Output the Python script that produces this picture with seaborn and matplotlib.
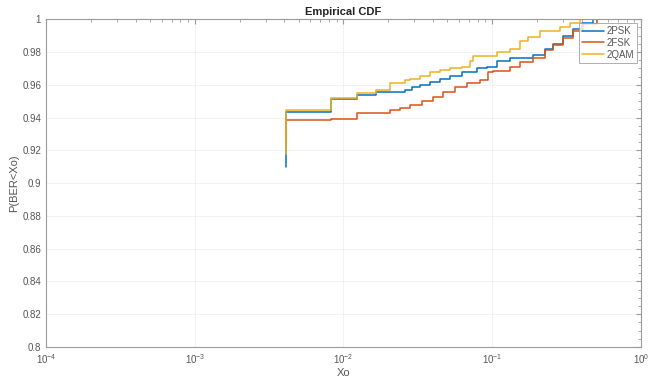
import numpy as np
import pandas as pd
import matplotlib
matplotlib.use("Agg")
import matplotlib.pyplot as plt
import matplotlib.ticker as mticker
import seaborn as sns

# Step vertices of each empirical CDF (x = BER threshold, F = P(BER < x))
psk_x = [0.00409, 0.00409, 0.0082, 0.01238, 0.01646, 0.02054, 0.02591, 0.02873, 0.03268,
         0.03816, 0.04454, 0.052, 0.06231, 0.07863, 0.09177, 0.1071, 0.1316, 0.1879,
         0.2263, 0.2561, 0.2989, 0.3491, 0.3993, 0.4759, 0.514]
psk_f = [0.910, 0.9431, 0.9513, 0.9538, 0.9553, 0.9558, 0.957, 0.9585, 0.960,
         0.9615, 0.9637, 0.9655, 0.9676, 0.970, 0.971, 0.9742, 0.9766, 0.978,
         0.9815, 0.985, 0.9895, 0.9937, 0.9975, 1.0, 1.0]

fsk_x = [0.00409, 0.00409, 0.0082, 0.01238, 0.02054, 0.0239, 0.028, 0.03355, 0.04015,
         0.04687, 0.05618, 0.06735, 0.08273, 0.09406, 0.1016, 0.1316, 0.1537, 0.1879,
         0.2263, 0.2561, 0.2989, 0.3491, 0.4075, 0.5038, 0.514]
fsk_f = [0.925, 0.9385, 0.9393, 0.9429, 0.9447, 0.9455, 0.9477, 0.950, 0.9527,
         0.9553, 0.9586, 0.9608, 0.963, 0.9676, 0.9686, 0.971, 0.9736, 0.9766,
         0.981, 0.9842, 0.9885, 0.9925, 0.997, 1.0, 1.0]

qam_x = [0.00409, 0.00409, 0.0082, 0.01238, 0.01646, 0.02054, 0.02591, 0.0280, 0.03268,
         0.03816, 0.04454, 0.052, 0.06231, 0.07088, 0.07426, 0.1071, 0.1316, 0.1537,
         0.1739, 0.2094, 0.2855, 0.3332, 0.3889, 0.514]
qam_f = [0.918, 0.9445, 0.9522, 0.9549, 0.9565, 0.9611, 0.963, 0.9637, 0.9655,
         0.9675, 0.969, 0.970, 0.971, 0.9744, 0.9777, 0.980, 0.982, 0.9865,
         0.989, 0.9925, 0.9955, 0.9975, 1.0, 1.0]

series_names = ["2PSK", "2FSK", "2QAM"]
colors = ["#0072BD", "#D95319", "#EDB120"]

y_ticks = [0.8, 0.82, 0.84, 0.86, 0.88, 0.9, 0.92, 0.94, 0.96, 0.98, 1.0]
x_ticks = [1e-4, 1e-3, 1e-2, 1e-1, 1e0]

frames = []
for name, xs, fs in zip(series_names, [psk_x, fsk_x, qam_x], [psk_f, fsk_f, qam_f]):
    frames.append(pd.DataFrame({"Xo": xs, "F": fs, "Modulation": name}))
df = pd.concat(frames, ignore_index=True)

sns.set_style("white")
plt.rcParams["font.family"] = ["Liberation Sans", "DejaVu Sans"]

fig = plt.figure(figsize=(6.52, 3.83), dpi=100)
ax = fig.add_axes([0.0706, 0.094, 0.9124, 0.856])

sns.lineplot(data=df, x="Xo", y="F", hue="Modulation", palette=colors,
             estimator=None, sort=False, drawstyle="steps-post",
             linewidth=1.1, ax=ax, legend=True)

ax.set_xscale("log")
ax.set_xlim(1e-4, 1e0)
ax.set_ylim(0.8, 1.0)
ax.set_xticks(x_ticks)
ax.set_yticks(y_ticks)
ax.yaxis.set_major_formatter(mticker.FormatStrFormatter("%g"))
ax.yaxis.set_minor_locator(mticker.MultipleLocator(0.005))
ax.xaxis.set_minor_locator(mticker.LogLocator(base=10, subs=np.arange(2, 10), numticks=20))
ax.xaxis.set_minor_formatter(mticker.NullFormatter())

ax.grid(True, which="major", color="#f0f0f0", linewidth=0.6)
for sp in ax.spines.values():
    sp.set_color("#9a9a9a")
    sp.set_linewidth(0.8)
ax.tick_params(which="both", direction="in", top=True, right=True,
               colors="#9a9a9a", labelcolor="#555555", labelsize=7)
ax.tick_params(which="major", length=3.5)
ax.tick_params(which="minor", length=2)

ax.set_xlabel("Xo", fontsize=8, color="#555555", labelpad=2)
ax.set_ylabel("P(BER<Xo)", fontsize=8, color="#555555", labelpad=2)
ax.set_title("Empirical CDF", fontsize=8, fontweight="bold", color="#222222", pad=3)

leg = ax.legend(loc="upper right", fontsize=7, frameon=True, fancybox=False,
                handlelength=2.2, handletextpad=0.3, borderpad=0.3,
                labelspacing=0.2, borderaxespad=0.4)
leg.get_frame().set_edgecolor("#9a9a9a")
leg.get_frame().set_linewidth(0.7)
for t in leg.get_texts():
    t.set_color("#555555")

fig.savefig("out.png", dpi=100)
